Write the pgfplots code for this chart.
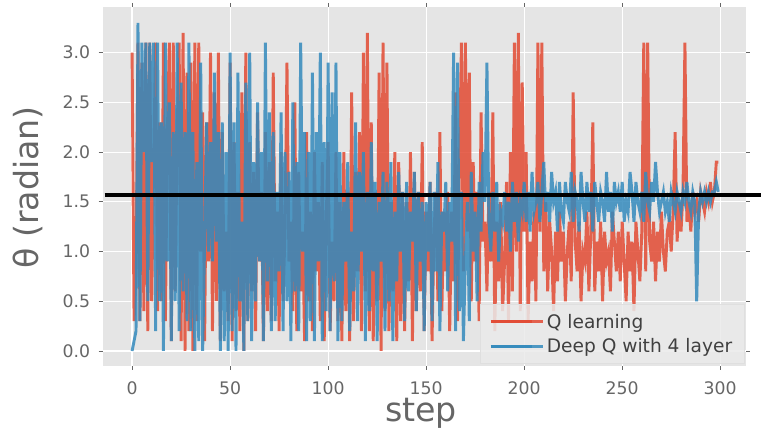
\documentclass[border=0pt]{standalone}
\usepackage{fontspec}
\setmainfont{DejaVu Sans}
\usepackage{pgfplots}
\usepackage{pgfplotstable}
\pgfplotsset{compat=1.18}
\definecolor{ggred}{HTML}{E24A33}
\definecolor{ggblue}{HTML}{348ABD}
\definecolor{ggbg}{HTML}{E5E5E5}
\definecolor{ggtxt}{HTML}{666666}

% Q learning, one value per step (0..299)
\pgfplotstableread[row sep=\\]{
y\\
3.0\\0.3\\0.8\\3.1\\0.3\\2.9\\0.4\\3.1\\0.2\\3.1\\
0.5\\1.9\\3.1\\0.4\\2.3\\0.5\\3.1\\0.3\\2.2\\3.1\\
0.1\\3.1\\0.6\\2.2\\3.1\\0.1\\3.2\\0.0\\2.8\\0.2\\
2.9\\0.0\\3.1\\0.3\\3.1\\1.0\\2.4\\0.1\\2.3\\0.9\\
3.0\\0.2\\2.6\\0.5\\3.0\\0.1\\2.2\\0.6\\1.2\\0.3\\
2.9\\0.1\\2.1\\0.4\\1.6\\0.2\\2.6\\0.0\\3.0\\0.3\\
2.1\\0.6\\1.8\\0.2\\2.4\\0.9\\1.6\\0.1\\2.2\\0.4\\
1.9\\0.3\\2.8\\0.7\\1.4\\0.2\\2.0\\0.5\\1.2\\2.9\\
0.9\\1.3\\0.4\\2.5\\0.2\\1.8\\0.6\\1.2\\0.1\\2.2\\
0.5\\1.4\\0.2\\2.0\\0.8\\1.5\\0.3\\1.9\\0.1\\1.3\\
2.1\\0.2\\1.1\\0.5\\2.0\\0.3\\1.5\\0.1\\2.0\\0.4\\
1.6\\0.1\\2.6\\0.3\\1.8\\0.8\\2.2\\0.2\\3.0\\0.6\\
3.2\\0.2\\2.3\\0.1\\1.6\\0.5\\2.8\\0.0\\3.1\\0.4\\
2.9\\0.2\\1.5\\0.6\\2.0\\0.1\\1.9\\0.3\\1.6\\0.2\\
1.5\\0.7\\2.0\\0.1\\1.8\\0.4\\1.6\\0.6\\2.1\\0.2\\
1.4\\0.8\\1.7\\0.1\\1.2\\1.6\\0.5\\2.2\\0.4\\1.4\\
0.8\\1.6\\0.2\\1.4\\0.7\\2.6\\0.3\\1.9\\3.1\\0.8\\
3.1\\1.2\\2.8\\0.5\\1.9\\0.9\\1.6\\0.3\\2.4\\1.1\\
1.3\\0.6\\1.6\\0.9\\2.4\\0.2\\1.3\\0.7\\1.5\\0.4\\
0.9\\1.7\\0.3\\2.0\\0.6\\3.1\\1.0\\3.2\\0.4\\2.7\\
1.2\\2.0\\0.3\\1.1\\0.7\\1.4\\0.5\\3.1\\1.2\\3.1\\
0.8\\1.5\\0.6\\1.3\\1.0\\0.4\\1.2\\0.7\\1.4\\0.9\\
1.2\\0.5\\1.0\\1.3\\0.7\\2.6\\1.1\\0.8\\1.3\\0.5\\
1.0\\0.9\\1.4\\0.6\\1.2\\2.3\\0.6\\1.1\\0.8\\1.3\\
0.5\\1.2\\0.9\\1.0\\0.6\\1.4\\1.1\\0.8\\1.2\\0.7\\
1.3\\0.9\\0.5\\1.2\\0.8\\1.1\\0.4\\1.3\\1.0\\0.7\\
1.2\\3.1\\0.8\\3.1\\1.1\\0.9\\1.3\\0.7\\1.2\\0.9\\
1.4\\1.0\\0.8\\1.2\\1.3\\1.0\\1.4\\2.2\\1.1\\1.5\\
1.2\\1.6\\3.1\\1.3\\1.5\\1.2\\1.6\\1.4\\1.5\\1.3\\
1.6\\1.5\\1.4\\1.6\\1.5\\1.7\\1.5\\1.6\\1.9\\1.9\\
}\qlearn

% Deep Q with 4 layer, one value per step (0..299)
\pgfplotstableread[row sep=\\]{
y\\
0.0\\0.1\\0.2\\3.3\\0.3\\3.1\\2.0\\3.1\\0.5\\3.1\\
1.9\\3.1\\0.2\\3.1\\0.5\\2.3\\0.0\\3.1\\0.9\\2.5\\
0.1\\2.2\\0.5\\3.1\\0.2\\2.7\\0.6\\2.2\\0.3\\3.1\\
0.2\\2.2\\0.0\\1.9\\0.1\\2.9\\0.0\\1.1\\2.3\\1.0\\
2.1\\0.9\\2.8\\1.1\\2.2\\0.0\\2.3\\0.1\\2.0\\0.0\\
3.0\\0.2\\2.3\\0.0\\2.8\\0.5\\1.3\\0.0\\2.7\\0.3\\
3.0\\0.1\\1.9\\0.5\\2.5\\0.9\\2.0\\0.1\\3.1\\0.7\\
2.4\\0.2\\2.2\\0.3\\1.6\\0.8\\2.4\\0.2\\2.0\\0.5\\
1.8\\0.1\\2.5\\0.6\\1.9\\0.2\\3.1\\1.0\\2.2\\0.1\\
2.0\\0.3\\2.8\\0.1\\2.2\\0.9\\3.0\\0.1\\2.1\\0.4\\
2.9\\0.2\\2.6\\0.7\\2.9\\0.1\\2.0\\0.3\\1.5\\0.9\\
1.9\\0.2\\1.2\\0.6\\2.3\\0.3\\1.8\\1.0\\2.0\\0.1\\
1.6\\0.4\\2.1\\0.8\\1.7\\0.1\\1.5\\0.9\\1.8\\0.2\\
1.7\\0.5\\1.9\\0.1\\1.4\\0.7\\1.8\\1.0\\1.6\\0.3\\
1.7\\0.6\\1.4\\1.1\\1.8\\0.4\\1.6\\0.9\\1.5\\0.2\\
1.5\\1.0\\1.7\\0.3\\1.6\\0.8\\1.9\\0.2\\1.4\\1.2\\
1.7\\0.6\\1.5\\1.1\\3.0\\0.2\\2.9\\0.4\\1.6\\0.1\\
0.9\\1.5\\0.3\\1.8\\1.0\\1.4\\0.5\\1.7\\1.2\\2.0\\
1.5\\2.9\\1.3\\1.0\\1.6\\1.2\\1.7\\0.9\\1.4\\1.3\\
1.6\\1.2\\1.5\\1.0\\1.7\\1.3\\1.6\\1.1\\1.5\\1.4\\
1.7\\1.3\\1.6\\1.2\\1.8\\1.4\\1.5\\1.7\\1.3\\1.6\\
1.9\\1.4\\1.6\\1.3\\1.8\\1.5\\1.6\\1.2\\1.7\\1.4\\
1.3\\1.7\\1.5\\1.4\\1.8\\1.3\\1.6\\1.5\\1.2\\1.8\\
1.5\\1.3\\1.7\\1.4\\1.6\\1.2\\1.7\\1.5\\1.3\\1.6\\
1.5\\1.3\\1.8\\1.4\\1.6\\1.2\\1.7\\1.5\\1.6\\1.4\\
1.7\\1.3\\1.5\\1.4\\1.8\\1.6\\1.3\\1.7\\1.5\\1.4\\
1.6\\1.3\\1.8\\1.5\\1.4\\1.7\\1.5\\1.9\\1.6\\1.4\\
1.5\\1.6\\1.4\\1.5\\1.3\\1.6\\1.5\\1.4\\1.6\\1.5\\
1.4\\1.6\\1.5\\1.7\\1.5\\1.4\\1.6\\1.5\\0.5\\1.4\\
1.6\\1.5\\1.6\\1.5\\1.6\\1.5\\1.6\\1.6\\1.7\\1.6\\
}\deepq

\begin{document}
\begin{tikzpicture}
\begin{axis}[
  scale only axis, width=483.75pt, height=270pt,
  xmin=-15, xmax=313, ymin=-0.15, ymax=3.46,
  xtick={0,50,...,300}, ytick={0,0.5,...,3.0},
  y tick label style={/pgf/number format/fixed, /pgf/number format/fixed zerofill,
    /pgf/number format/precision=1},
  /pgf/number format/assume math mode=true,
  axis background/.style={fill=ggbg},
  axis line style={draw=none},
  grid=major, major grid style={white, line width=0.9pt},
  tick align=outside, major tick length=3pt,
  tick style={ggtxt, line width=0.6pt},
  tick label style={font=\fontsize{13}{15}\selectfont, text=ggtxt},
  xticklabel shift=5pt, yticklabel shift=3pt,
  xlabel={step}, ylabel={θ (radian)},
  every axis x label/.style={at={(rel axis cs:0.495,-0.133)}, anchor=center,
    font=\fontsize{25}{30}\selectfont, text=ggtxt},
  every axis y label/.style={at={(rel axis cs:-0.116,0.497)}, rotate=90, anchor=center,
    font=\fontsize{25}{30}\selectfont, text=ggtxt},
  clip=false,
  legend style={at={(rel axis cs:0.998,0.006)}, anchor=south east,
    fill=ggbg!80!white, fill opacity=0.85, text opacity=1, draw=white!75!gray,
    font=\fontsize{14}{17}\selectfont, text=black!75, row sep=2pt,
    inner xsep=7pt, inner ysep=5pt},
  legend cell align=left,
  legend image code/.code={\draw[#1, line width=2.2pt] (0pt,0pt) -- (31pt,0pt);
    \path (0pt,0pt) -- (39pt,0pt);},
]
\addplot[ggred, line width=2.2pt, opacity=0.85] table[x expr=\coordindex, y=y] {\qlearn};
\addlegendentry{Q learning}
\addplot[ggblue, line width=2.2pt, opacity=0.85] table[x expr=\coordindex, y=y] {\deepq};
\addlegendentry{Deep Q with 4 layer}
\addplot[black, line width=3pt, forget plot] coordinates {(-14,1.5708) (320.8,1.5708)};
\path (rel axis cs:-0.1597,1.0194) (rel axis cs:1.0233,-0.1861);
\end{axis}
\end{tikzpicture}
\end{document}
